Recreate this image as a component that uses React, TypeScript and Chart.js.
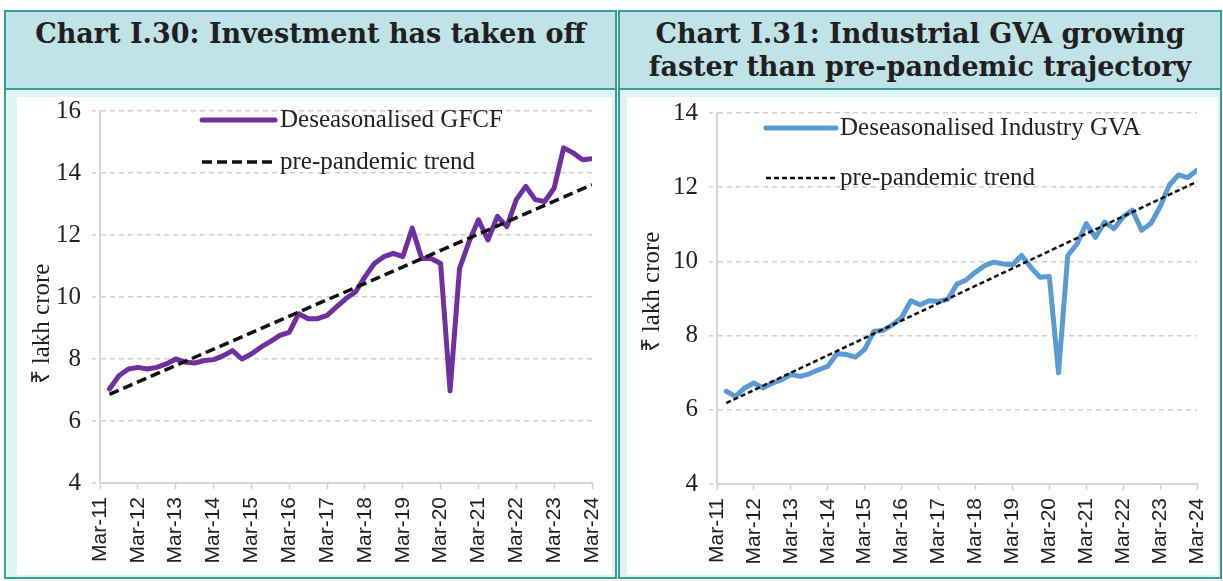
import React, { useEffect, useRef } from "react";
import { Chart, registerables } from "chart.js";

Chart.register(...registerables);

// ---------- data ----------
const yearTicks = [
  "Mar-11", "Mar-12", "Mar-13", "Mar-14", "Mar-15", "Mar-16", "Mar-17",
  "Mar-18", "Mar-19", "Mar-20", "Mar-21", "Mar-22", "Mar-23", "Mar-24",
];

// quarterly values, Jun-11 ... Mar-24 (52 quarters), ₹ lakh crore
const gfcfValues = [
  7.03, 7.46, 7.68, 7.73, 7.68, 7.73, 7.84, 8.0, 7.9, 7.87,
  7.95, 7.98, 8.1, 8.27, 8.0, 8.16, 8.38, 8.56, 8.76, 8.86,
  9.46, 9.3, 9.3, 9.41, 9.68, 9.95, 10.16, 10.65, 11.08, 11.3,
  11.41, 11.3, 12.22, 11.24, 11.24, 11.08, 6.97, 10.92, 11.78, 12.49,
  11.84, 12.6, 12.27, 13.14, 13.57, 13.14, 13.08, 13.51, 14.81, 14.65,
  14.43, 14.46,
];
const gfcfTrendEnds = [6.86, 13.62];

const industryValues = [
  6.5, 6.36, 6.59, 6.72, 6.59, 6.72, 6.81, 6.95, 6.9, 6.97,
  7.08, 7.17, 7.51, 7.49, 7.42, 7.63, 8.12, 8.14, 8.29, 8.48,
  8.94, 8.83, 8.94, 8.92, 8.98, 9.39, 9.5, 9.71, 9.89, 9.98,
  9.93, 9.91, 10.16, 9.84, 9.57, 9.59, 7.0, 10.16, 10.47, 11.02,
  10.65, 11.06, 10.88, 11.2, 11.38, 10.84, 11.02, 11.47, 12.06, 12.33,
  12.26, 12.46,
];
const industryTrendEnds = [6.18, 12.15];

const yAxisTitle = "₹ lakh crore";

// ---------- styles ----------
const TEAL = "#36a096";
const TITLE_BG = "#bfe3e6";
const PANEL_BG = "#e1f2f3";
const TEXT = "#231f20";

type PanelCfg = {
  values: number[];
  trendEnds: number[];
  seriesLabel: string;
  trendLabel: string;
  color: string;
  trendWidth: number;
  trendDash: number[];
  yMax: number;
  width: number;
  height: number;
  yAxisWidth: number;
  xAxisHeight: number;
  padTop: number;
  padRight: number;
  legend: { x1: number; x2: number; tx: number; y1: number; y2: number };
  yTitlePos: { x: number; y: number };
};

function overlayPlugin(cfg: PanelCfg) {
  return {
    id: "overlay",
    afterDraw(chart: any) {
      const ctx = chart.ctx as CanvasRenderingContext2D;
      const ds = chart.data.datasets;
      ctx.save();
      ctx.font = '25px "Liberation Serif", serif';
      ctx.textBaseline = "middle";
      ctx.fillStyle = TEXT;
      // series entry
      ctx.beginPath();
      ctx.setLineDash([]);
      ctx.lineCap = "round";
      ctx.lineWidth = 5;
      ctx.strokeStyle = ds[0].borderColor;
      ctx.moveTo(cfg.legend.x1, cfg.legend.y1);
      ctx.lineTo(cfg.legend.x2, cfg.legend.y1);
      ctx.stroke();
      ctx.fillText(ds[0].label, cfg.legend.tx, cfg.legend.y1);
      // trend entry
      ctx.beginPath();
      ctx.lineCap = "butt";
      ctx.setLineDash(ds[1].borderDash);
      ctx.lineWidth = ds[1].borderWidth;
      ctx.strokeStyle = ds[1].borderColor;
      ctx.moveTo(cfg.legend.x1, cfg.legend.y2);
      ctx.lineTo(cfg.legend.x2, cfg.legend.y2);
      ctx.stroke();
      ctx.setLineDash([]);
      ctx.fillText(ds[1].label, cfg.legend.tx, cfg.legend.y2);
      // y-axis title
      ctx.translate(cfg.yTitlePos.x, cfg.yTitlePos.y);
      ctx.rotate(-Math.PI / 2);
      ctx.textAlign = "center";
      ctx.fillText(yAxisTitle, 0, 0);
      ctx.restore();
    },
  };
}

function zeroPad(s: any) {
  s.paddingTop = 0;
  s.paddingBottom = 0;
  s.paddingLeft = 0;
  s.paddingRight = 0;
}

function ChartPanel({ cfg, style }: { cfg: PanelCfg; style: React.CSSProperties }) {
  const ref = useRef<HTMLCanvasElement | null>(null);
  useEffect(() => {
    if (!ref.current) return;
    const series = cfg.values.map((v, i) => ({ x: i + 1, y: v }));
    const trend = [
      { x: 1, y: cfg.trendEnds[0] },
      { x: cfg.values.length, y: cfg.trendEnds[1] },
    ];
    const chart = new Chart(ref.current, {
      type: "line",
      data: {
        datasets: [
          {
            label: cfg.seriesLabel,
            data: series,
            borderColor: cfg.color,
            borderWidth: 5,
            pointRadius: 0,
            tension: 0,
            borderJoinStyle: "round",
            borderCapStyle: "round",
            order: 2,
          },
          {
            label: cfg.trendLabel,
            data: trend,
            borderColor: "#111111",
            borderWidth: cfg.trendWidth,
            borderDash: cfg.trendDash,
            pointRadius: 0,
            order: 1,
          },
        ],
      },
      options: {
        animation: false,
        responsive: false,
        devicePixelRatio: 1,
        layout: { padding: { top: cfg.padTop, right: cfg.padRight, left: 0, bottom: 0 } },
        plugins: { legend: { display: false }, tooltip: { enabled: false }, title: { display: false } },
        scales: {
          x: {
            type: "linear",
            min: 0,
            max: 52,
            afterFit: (s: any) => { s.height = cfg.xAxisHeight; zeroPad(s); },
            ticks: {
              stepSize: 4,
              autoSkip: false,
              maxRotation: 90,
              minRotation: 90,
              padding: 8,
              color: TEXT,
              font: { family: '"Liberation Sans", Arial, sans-serif', size: 21 },
              callback: (v: any) => yearTicks[Math.round(Number(v) / 4)] ?? "",
            },
            grid: {
              drawOnChartArea: false,
              drawTicks: true,
              tickLength: 6,
              tickColor: "#d0d0d0",
              tickWidth: 1.5,
            },
            border: { color: "#d6d6d6", width: 2 },
          },
          y: {
            min: 4,
            max: cfg.yMax,
            afterFit: (s: any) => { s.width = cfg.yAxisWidth; zeroPad(s); },
            ticks: {
              stepSize: 2,
              padding: 11,
              color: TEXT,
              font: { family: '"Liberation Serif", serif', size: 25 },
            },
            grid: {
              color: "#d0d0d0",
              lineWidth: 1.5,
              tickLength: 8,
              tickColor: "#d0d0d0",
              tickWidth: 1.5,
              tickBorderDash: [4, 4],
            },
            border: { color: "#d6d6d6", width: 2, dash: [5, 4] },
          },
        },
      },
      plugins: [overlayPlugin(cfg)],
    } as any);
    return () => chart.destroy();
  }, [cfg]);
  return <canvas ref={ref} width={cfg.width} height={cfg.height} style={{ position: "absolute", ...style }} />;
}

const leftCfg: PanelCfg = {
  values: gfcfValues,
  trendEnds: gfcfTrendEnds,
  seriesLabel: "Deseasonalised GFCF",
  trendLabel: "pre-pandemic trend",
  color: "#7030a0",
  trendWidth: 3.5,
  trendDash: [10, 5],
  yMax: 16,
  width: 595,
  height: 478,
  yAxisWidth: 83,
  xAxisHeight: 92,
  padTop: 14,
  padRight: 20,
  legend: { x1: 185, x2: 258, tx: 263, y1: 23, y2: 65 },
  yTitlePos: { x: 25, y: 227 },
};

const rightCfg: PanelCfg = {
  values: industryValues,
  trendEnds: industryTrendEnds,
  seriesLabel: "Deseasonalised Industry GVA",
  trendLabel: "pre-pandemic trend",
  color: "#5b9bd5",
  trendWidth: 2.5,
  trendDash: [5, 3],
  yMax: 14,
  width: 591,
  height: 478,
  yAxisWidth: 90,
  xAxisHeight: 91,
  padTop: 16,
  padRight: 21,
  legend: { x1: 139, x2: 209, tx: 213, y1: 31, y2: 81 },
  yTitlePos: { x: 25, y: 195 },
};

const titleStyle: React.CSSProperties = {
  position: "absolute",
  boxSizing: "border-box",
  border: `2px solid ${TEAL}`,
  background: TITLE_BG,
  fontFamily: '"DejaVu Serif", serif',
  fontWeight: 700,
  fontSize: 27,
  color: TEXT,
  textAlign: "center",
  lineHeight: "33px",
  paddingTop: 5,
  whiteSpace: "nowrap",
};

const boxStyle: React.CSSProperties = {
  position: "absolute",
  boxSizing: "border-box",
  border: `2px solid ${TEAL}`,
  background: PANEL_BG,
};

export default function App() {
  return (
    <div style={{ position: "fixed", left: 0, top: 0, width: 1223, height: 581, background: "#ffffff", overflow: "hidden" }}>
      {/* left panel */}
      <div style={{ ...titleStyle, left: 4, top: 10, width: 613, height: 80 }}>
        Chart I.30: Investment has taken off
      </div>
      <div style={{ ...boxStyle, left: 4, top: 88, width: 613, height: 491 }} />
      <ChartPanel cfg={leftCfg} style={{ left: 17, top: 97, background: "#ffffff" }} />

      {/* right panel */}
      <div style={{ ...titleStyle, left: 618, top: 10, width: 604, height: 80 }}>
        Chart I.31: Industrial GVA growing
        <br />
        faster than pre-pandemic trajectory
      </div>
      <div style={{ ...boxStyle, left: 618, top: 88, width: 604, height: 491 }} />
      <ChartPanel cfg={rightCfg} style={{ left: 627, top: 97, background: "#ffffff" }} />
    </div>
  );
}
